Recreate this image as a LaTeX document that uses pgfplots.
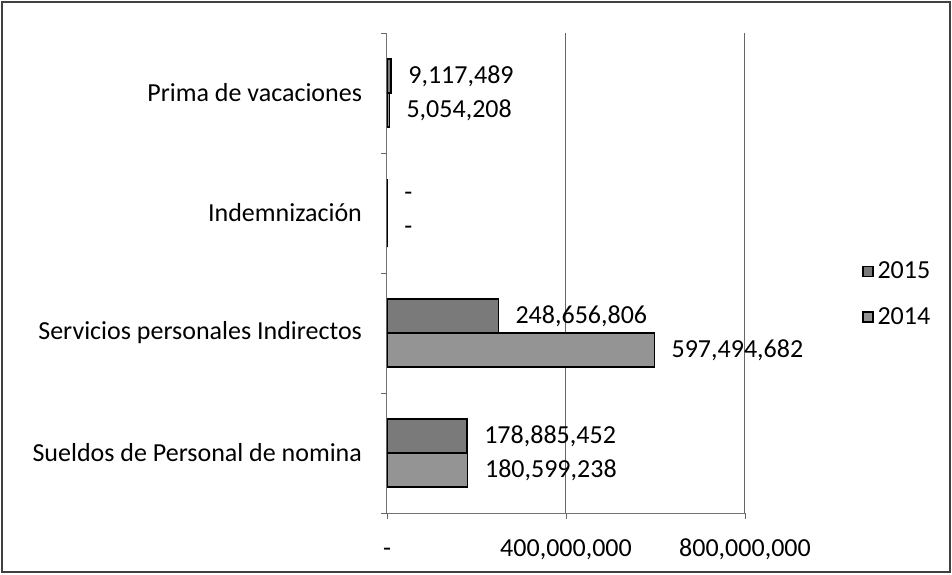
\documentclass[border=0pt]{standalone}
\usepackage{fontspec}
\setmainfont{Carlito}
\usepackage{pgfplots}
\usepackage{pgfplotstable}
\pgfplotsset{compat=1.18}
\pgfplotstableread{
y x lab
0 178885452 178,885,452
1 248656806 248,656,806
2 0 -
3 9117489 9,117,489
}\datafifteen
\pgfplotstableread{
y x lab
0 180599238 180,599,238
1 597494682 597,494,682
2 0 -
3 5054208 5,054,208
}\datafourteen
\begin{document}
\begin{tikzpicture}[font=\fontsize{13}{15}\selectfont]
\useasboundingbox (-193.5pt,-30.5pt) rectangle (282.5pt,256.5pt);
\draw[black!75, line width=0.6pt] (-192.5pt,-29.5pt) rectangle (281.5pt,255.5pt);
\begin{axis}[
  at={(0,0)}, anchor=south west,
  scale only axis, width=179pt, height=240pt,
  xbar, bar width=17pt,
  xmin=0, xmax=800000000, ymin=-0.5, ymax=3.5,
  scaled x ticks=false,
  xtick={0,400000000,800000000},
  xticklabels={{-},{400,000,000},{800,000,000}},
  ytick={0,1,2,3},
  yticklabels={Sueldos de Personal de nomina,Servicios personales Indirectos,Indemnización,Prima de vacaciones},
  minor ytick={-0.5,0.5,1.5,2.5,3.5},
  axis x line*=bottom, axis y line*=left,
  axis line style={black!55, line width=0.5pt},
  xmajorgrids, grid style={black!60, line width=0.5pt},
  tick align=outside,
  major x tick style={black!60},
  major tick length=3pt,
  major y tick style={draw=none},
  minor y tick style={black!60},
  minor tick length=3pt,
  xticklabel style={yshift=-6pt, text height=9pt, text depth=2pt},
  yticklabel style={xshift=-6pt},
  point meta=explicit symbolic,
  nodes near coords={\pgfplotspointmeta},
  every node near coord/.style={anchor=west, xshift=5pt, font=\fontsize{13}{15}\selectfont, black},
  legend style={at={(1.31,0.456)}, anchor=west, draw=none, fill=none, row sep=9pt, font=\fontsize{13}{15}\selectfont},
  legend cell align=left,
  legend image code/.code={\draw[#1, line width=0.6pt] (0pt,-2.5pt) rectangle (5pt,2.5pt);},
]
\addplot[fill=black!52, draw=black, line width=0.6pt, bar shift=8.5pt,
  every node near coord/.append style={yshift=8.5pt}] table[x=x, y=y, meta=lab] {\datafifteen};
\addlegendentry{2015}
\addplot[fill=black!42, draw=black, line width=0.6pt, bar shift=-8.5pt,
  every node near coord/.append style={yshift=-8.5pt}] table[x=x, y=y, meta=lab] {\datafourteen};
\addlegendentry{2014}
\end{axis}
\end{tikzpicture}
\end{document}
